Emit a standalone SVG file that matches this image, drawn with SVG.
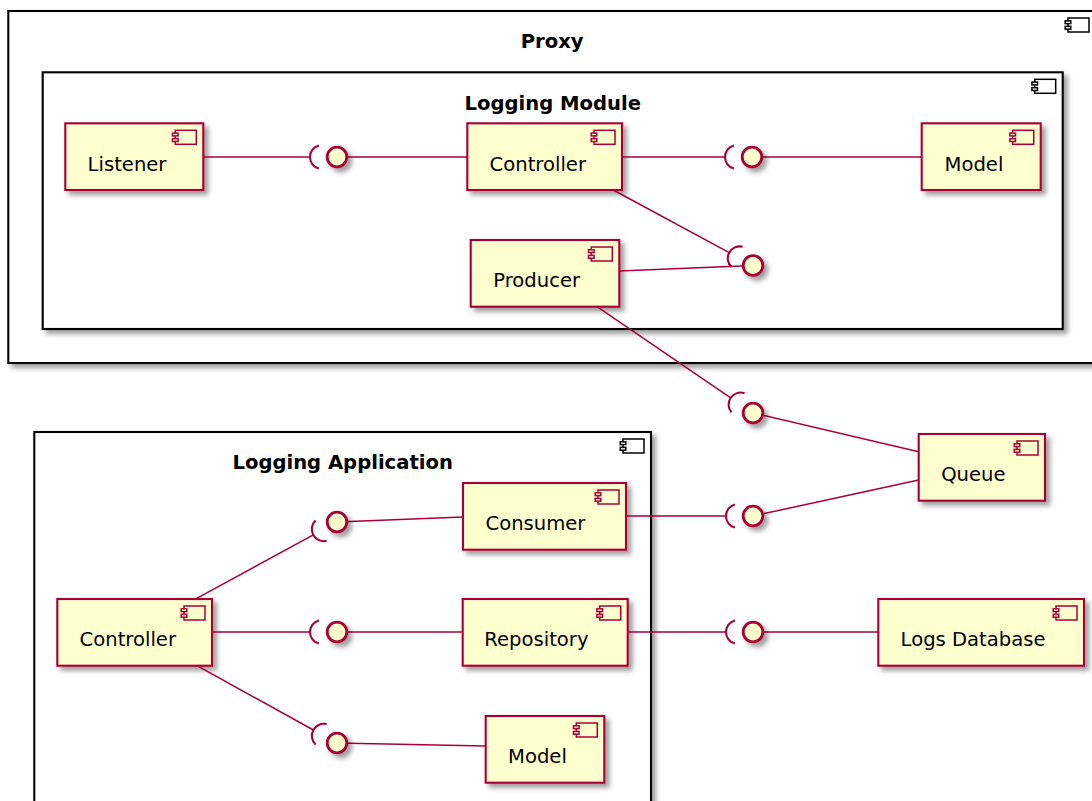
<svg xmlns="http://www.w3.org/2000/svg" xmlns:xlink="http://www.w3.org/1999/xlink" width="1092" height="801" viewBox="0 0 1092 801">
  <style>
    .container { fill: #FFFFFF; stroke: #000000; stroke-width: 2.1; filter: url(#shadow); }
    .ctitle { font-family: "DejaVu Sans", "Liberation Sans", sans-serif; font-size: 19.6px; font-weight: bold; fill: #000000; text-anchor: middle; }
    .cicon { fill: #FFFFFF; stroke: #000000; stroke-width: 1.5; }
    .comp { fill: #FEFECE; stroke: #A80036; stroke-width: 2.1; filter: url(#shadow); }
    .icon { fill: #FEFECE; stroke: #A80036; stroke-width: 1.5; }
    .label { font-family: "DejaVu Sans", "Liberation Sans", sans-serif; font-size: 19.6px; fill: #000000; }
    .iface { fill: #FEFECE; stroke: #A80036; stroke-width: 2.8; filter: url(#shadow); }
    .link { fill: none; stroke: #A80036; stroke-width: 1.5; }
    .sock { fill: none; stroke: #A80036; stroke-width: 2.1; }
  </style>
  <defs>
    <filter id="shadow" filterUnits="userSpaceOnUse" x="0" y="0" width="1120" height="840">
      <feDropShadow dx="4" dy="4" stdDeviation="2.4" flood-color="#000000" flood-opacity="0.38"/>
    </filter>
    <!-- component glyph, anchored at the top-right corner of its box -->
    <g id="glyph">
      <rect x="-28" y="7" width="21" height="14"/>
      <rect x="-30.8" y="9.8" width="5.6" height="2.8"/>
      <rect x="-30.8" y="15.4" width="5.6" height="2.8"/>
    </g>
    <!-- required-interface socket, local frame: interface centre at origin, link arriving along +x -->
    <path id="socket" d="M -18.1 -11.6 A 12 12 0 0 0 -18.1 11.6"/>
  </defs>

  <!-- containers -->
  <g id="proxy">
    <rect class="container" x="8.3" y="11" width="1087.7" height="352"/>
    <use href="#glyph" class="cicon" x="1096" y="11"/>
    <text class="ctitle" x="552.2" y="48.3">Proxy</text>
  </g>
  <g id="logging-module">
    <rect class="container" x="42.7" y="72.3" width="1020" height="256.7"/>
    <use href="#glyph" class="cicon" x="1062.7" y="72.3"/>
    <text class="ctitle" x="552.7" y="110">Logging Module</text>
  </g>
  <g id="logging-application">
    <rect class="container" x="34.3" y="432" width="616.7" height="400"/>
    <use href="#glyph" class="cicon" x="651" y="432"/>
    <text class="ctitle" x="342.7" y="469.4">Logging Application</text>
  </g>

  <!-- components -->
  <g id="listener">
    <rect class="comp" x="65.3" y="123.3" width="138" height="66.7"/>
    <use href="#glyph" class="icon" x="203.3" y="123.3"/>
    <text class="label" x="87.6" y="170.6">Listener</text>
  </g>
  <g id="proxy-controller">
    <rect class="comp" x="467.3" y="123.3" width="154.7" height="66.7"/>
    <use href="#glyph" class="icon" x="622" y="123.3"/>
    <text class="label" x="489.6" y="170.6">Controller</text>
  </g>
  <g id="proxy-model">
    <rect class="comp" x="921.7" y="123.3" width="119" height="66.7"/>
    <use href="#glyph" class="icon" x="1040.7" y="123.3"/>
    <text class="label" x="944.5" y="170.6">Model</text>
  </g>
  <g id="producer">
    <rect class="comp" x="470.7" y="240" width="148.6" height="66.7"/>
    <use href="#glyph" class="icon" x="619.3" y="240"/>
    <text class="label" x="493.2" y="287.3">Producer</text>
  </g>
  <g id="queue">
    <rect class="comp" x="918.7" y="434" width="126.3" height="66.7"/>
    <use href="#glyph" class="icon" x="1045" y="434"/>
    <text class="label" x="941.2" y="481.3">Queue</text>
  </g>
  <g id="consumer">
    <rect class="comp" x="463" y="483" width="163" height="66.7"/>
    <use href="#glyph" class="icon" x="626" y="483"/>
    <text class="label" x="485.5" y="530.3">Consumer</text>
  </g>
  <g id="app-controller">
    <rect class="comp" x="57.3" y="599" width="154.7" height="66.7"/>
    <use href="#glyph" class="icon" x="212" y="599"/>
    <text class="label" x="79.6" y="646.3">Controller</text>
  </g>
  <g id="repository">
    <rect class="comp" x="462.7" y="599" width="165" height="66.7"/>
    <use href="#glyph" class="icon" x="627.7" y="599"/>
    <text class="label" x="484.3" y="646.3">Repository</text>
  </g>
  <g id="logs-database">
    <rect class="comp" x="878.3" y="599" width="205.7" height="66.7"/>
    <use href="#glyph" class="icon" x="1084" y="599"/>
    <text class="label" x="900.6" y="646.3">Logs Database</text>
  </g>
  <g id="app-model">
    <rect class="comp" x="485.7" y="716" width="118.6" height="66.7"/>
    <use href="#glyph" class="icon" x="604.3" y="716"/>
    <text class="label" x="508" y="763.3">Model</text>
  </g>

  <!-- connectors -->
  <g id="connectors">
    <!-- Listener -( i1 )- Controller -->
    <line class="link" x1="203.3" y1="157" x2="310" y2="157"/>
    <use href="#socket" class="sock" transform="translate(337 157)"/>
    <line class="link" x1="337" y1="157" x2="467.3" y2="157"/>
    <!-- Controller -( i2 - Model -->
    <line class="link" x1="622" y1="157" x2="725" y2="157"/>
    <use href="#socket" class="sock" transform="translate(752 157)"/>
    <line class="link" x1="752" y1="157" x2="921.7" y2="157"/>
    <!-- Controller -( i3 - Producer -->
    <line class="link" x1="613.3" y1="190" x2="729.2" y2="252.7"/>
    <use href="#socket" class="sock" transform="translate(753 265.5) rotate(28.4)"/>
    <line class="link" x1="619.3" y1="271" x2="753" y2="265.5"/>
    <!-- Producer -( i4 - Queue -->
    <line class="link" x1="597" y1="306.7" x2="730.7" y2="397.8"/>
    <use href="#socket" class="sock" transform="translate(753 413) rotate(34.3)"/>
    <line class="link" x1="753" y1="413" x2="918.7" y2="451.7"/>
    <!-- Consumer -( i5 - Queue -->
    <line class="link" x1="626" y1="516" x2="726" y2="516"/>
    <use href="#socket" class="sock" transform="translate(753 516)"/>
    <line class="link" x1="753" y1="516" x2="918.7" y2="480"/>
    <!-- Repository -( i6 - Logs Database -->
    <line class="link" x1="627.7" y1="632" x2="726" y2="632"/>
    <use href="#socket" class="sock" transform="translate(753 632)"/>
    <line class="link" x1="753" y1="632" x2="878.3" y2="632"/>
    <!-- application Controller -( a1 - Consumer -->
    <line class="link" x1="196.7" y1="598.3" x2="313.3" y2="534.9"/>
    <use href="#socket" class="sock" transform="translate(337 522) rotate(-28.5)"/>
    <line class="link" x1="337" y1="522" x2="463" y2="517"/>
    <!-- application Controller -( a2 - Repository -->
    <line class="link" x1="212" y1="632" x2="310" y2="632"/>
    <use href="#socket" class="sock" transform="translate(337 632)"/>
    <line class="link" x1="337" y1="632" x2="462.7" y2="632"/>
    <!-- application Controller -( a3 - Model -->
    <line class="link" x1="197" y1="665.7" x2="313.4" y2="730"/>
    <use href="#socket" class="sock" transform="translate(337 743) rotate(28.9)"/>
    <line class="link" x1="337" y1="743" x2="485.7" y2="746"/>
  </g>

  <!-- interfaces -->
  <g id="i1"><circle class="iface" cx="337" cy="157" r="9.8"/></g>
  <g id="i2"><circle class="iface" cx="752" cy="157" r="9.8"/></g>
  <g id="i3"><circle class="iface" cx="753" cy="265.5" r="9.8"/></g>
  <g id="i4"><circle class="iface" cx="753" cy="413" r="9.8"/></g>
  <g id="i5"><circle class="iface" cx="753" cy="516" r="9.8"/></g>
  <g id="i6"><circle class="iface" cx="753" cy="632" r="9.8"/></g>
  <g id="a1"><circle class="iface" cx="337" cy="522" r="9.8"/></g>
  <g id="a2"><circle class="iface" cx="337" cy="632" r="9.8"/></g>
  <g id="a3"><circle class="iface" cx="337" cy="743" r="9.8"/></g>
</svg>
